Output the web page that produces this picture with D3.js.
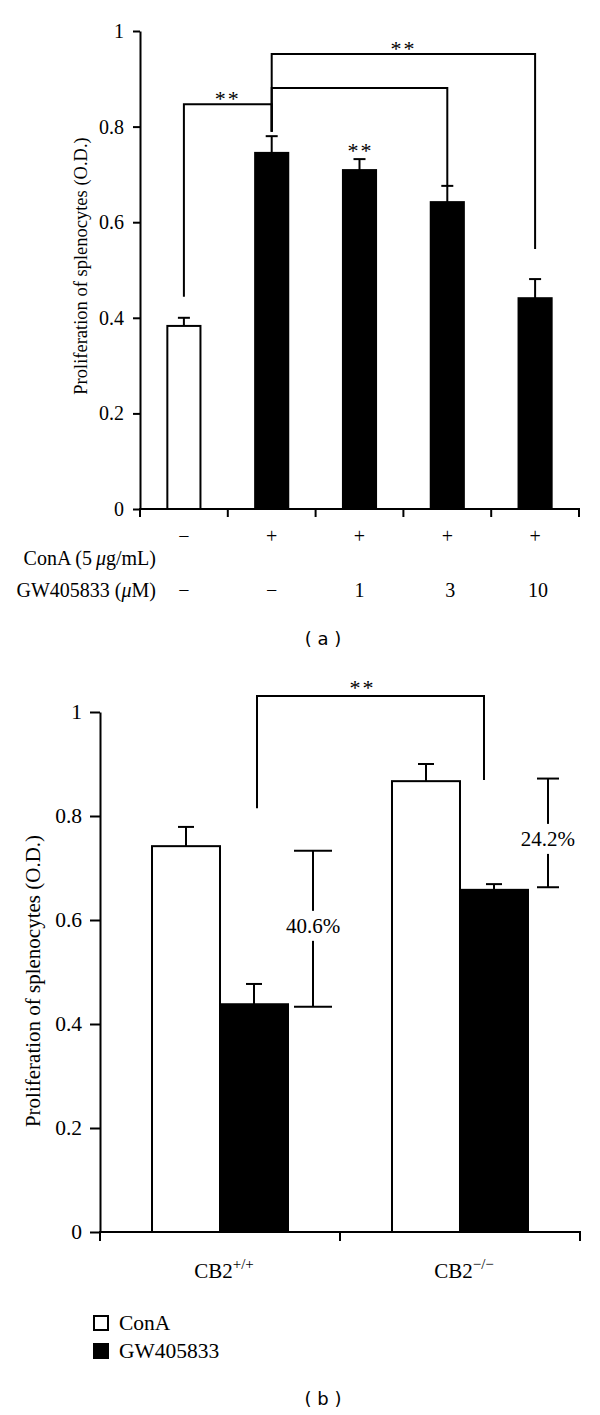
<!DOCTYPE html>
<html>
<head>
<meta charset="utf-8">
<script src="https://cdn.jsdelivr.net/npm/d3@7"></script>
<style>
html,body{margin:0;padding:0;background:#fff;}
svg{display:block;}
text{font-family:"Liberation Serif","Times New Roman",serif;fill:#000;}
</style>
</head>
<body>
<svg id="chart" width="600" height="1415"></svg>
<script>
// ---------- Panel (a) data ----------
const categoriesA = ["g1", "g2", "g3", "g4", "g5"];
const conALabels = ["\u2212", "+", "+", "+", "+"];
const gwLabels = ["\u2212", "\u2212", "1", "3", "10"];
const meansA = [0.383, 0.745, 0.709, 0.642, 0.441];
const errA = [0.017, 0.035, 0.023, 0.034, 0.040];
const fillsA = ["white", "black", "black", "black", "black"];
const yTicks = [0, 0.2, 0.4, 0.6, 0.8, 1];
// significance brackets: from category, to category, bracket level, leg end values
const bracketsA = [
  {from: 0, to: 1, level: 0.847, fromEnd: 0.444, toEnd: 0.789, label: "**"},
  {from: 1, to: 3, level: 0.881, fromEnd: 0.789, toEnd: 0.676, label: ""},
  {from: 1, to: 4, level: 0.952, fromEnd: 0.789, toEnd: 0.544, label: "**"}
];
const starOverBarA = [{cat: 2, label: "**"}];

// ---------- Panel (b) data ----------
const groupsB = ["CB2+/+", "CB2\u2212/\u2212"];
const seriesB = ["ConA", "GW405833"];
const conAMeansB = [0.742, 0.867];
const conAErrB = [0.037, 0.033];
const gwMeansB = [0.438, 0.658];
const gwErrB = [0.039, 0.011];
const percentLo = [0.433, 0.663];
const percentHi = [0.733, 0.872];
const percentLabels = ["40.6%", "24.2%"];
const sigB = {level: 1.031, fromEnd: 0.815, toEnd: 0.869, label: "**"};

const svg = d3.select("#chart");
const fmt = d => d === 0 ? "0" : d === 1 ? "1" : d.toFixed(1);

// =================== Panel (a) ===================
const yA = d3.scaleLinear().domain([0, 1]).range([509, 31]);
const xA = d3.scaleBand().domain(categoriesA).range([140, 579]).paddingInner(0.6).paddingOuter(0.3);
const cxA = i => xA(categoriesA[i]) + xA.bandwidth() / 2;
const gA = svg.append("g");

const axA = gA.append("g").attr("transform", "translate(140,0)")
  .call(d3.axisLeft(yA).tickValues(yTicks).tickFormat(fmt).tickSize(7).tickPadding(9).tickSizeOuter(0));
axA.selectAll("path,line").attr("stroke", "#000").attr("stroke-width", 2);
axA.selectAll("text").attr("font-family", "Liberation Serif").attr("font-size", 20).attr("fill", "#000");

// x axis line and ticks at band boundaries
gA.append("line").attr("x1", 139).attr("x2", 580).attr("y1", yA(0)).attr("y2", yA(0)).attr("stroke", "#000").attr("stroke-width", 2);
gA.selectAll(".xtA").data(d3.range(categoriesA.length + 1)).join("line")
  .attr("x1", i => 140 + i * xA.step()).attr("x2", i => 140 + i * xA.step())
  .attr("y1", yA(0)).attr("y2", yA(0) + 8).attr("stroke", "#000").attr("stroke-width", 2);

// bars
gA.selectAll(".barA").data(meansA).join("rect")
  .attr("x", (d, i) => xA(categoriesA[i]) + 1).attr("width", xA.bandwidth() - 2)
  .attr("y", d => yA(d)).attr("height", d => yA(0) - yA(d))
  .attr("fill", (d, i) => fillsA[i]).attr("stroke", "#000").attr("stroke-width", 2);
// error bars
meansA.forEach((m, i) => {
  const cx = cxA(i);
  gA.append("line").attr("x1", cx).attr("x2", cx).attr("y1", yA(m)).attr("y2", yA(m + errA[i])).attr("stroke", "#000").attr("stroke-width", 2);
  gA.append("line").attr("x1", cx - 6).attr("x2", cx + 6).attr("y1", yA(m + errA[i])).attr("y2", yA(m + errA[i])).attr("stroke", "#000").attr("stroke-width", 2);
});
// brackets
bracketsA.forEach(b => {
  const x1 = cxA(b.from), x2 = cxA(b.to);
  gA.append("path")
    .attr("d", `M${x1},${yA(b.fromEnd)}V${yA(b.level)}H${x2}V${yA(b.toEnd)}`)
    .attr("fill", "none").attr("stroke", "#000").attr("stroke-width", 2);
  if (b.label) {
    gA.append("text").attr("x", (x1 + x2) / 2).attr("y", yA(b.level) + 2)
      .attr("text-anchor", "middle").attr("font-size", 22).attr("letter-spacing", 2).text(b.label);
  }
});
starOverBarA.forEach(s => {
  gA.append("text").attr("x", cxA(s.cat) + 1).attr("y", yA(meansA[s.cat] + errA[s.cat]) - 1)
    .attr("text-anchor", "middle").attr("font-size", 22).attr("letter-spacing", 2).text(s.label);
});
// category label rows
gA.selectAll(".conA").data(conALabels).join("text")
  .attr("x", (d, i) => cxA(i)).attr("y", 543).attr("text-anchor", "middle").attr("font-size", 20).text(d => d);
gA.selectAll(".gw").data(gwLabels).join("text")
  .attr("x", (d, i) => cxA(i) + (i >= 3 ? 3 : 0)).attr("y", 597).attr("text-anchor", "middle").attr("font-size", 20).text(d => d);
const conATitle = gA.append("text").attr("x", 156).attr("y", 565).attr("text-anchor", "end").attr("font-size", 20);
conATitle.append("tspan").text("ConA (5\u2009");
conATitle.append("tspan").attr("font-style", "italic").text("\u03bc");
conATitle.append("tspan").text("g/mL)");
const gwTitle = gA.append("text").attr("x", 156).attr("y", 597).attr("text-anchor", "end").attr("font-size", 20);
gwTitle.append("tspan").text("GW405833 (");
gwTitle.append("tspan").attr("font-style", "italic").text("\u03bc");
gwTitle.append("tspan").text("M)");
// y label
gA.append("text").attr("transform", "translate(87,266) rotate(-90)")
  .attr("text-anchor", "middle").attr("font-size", 18.5).text("Proliferation of splenocytes (O.D.)");
gA.append("text").attr("x", 323).attr("y", 645).attr("text-anchor", "middle")
  .style("font-family", "'DejaVu Sans', Verdana, sans-serif").attr("font-size", 18).text("( a )");

// =================== Panel (b) ===================
const yB = d3.scaleLinear().domain([0, 1]).range([1232, 712]);
const xB = d3.scaleBand().domain(groupsB).range([100, 580]).paddingInner(0.4333).paddingOuter(0.2167);
const xB1 = d3.scaleBand().domain(seriesB).range([0, xB.bandwidth()]);
const gB = svg.append("g");

const axB = gB.append("g").attr("transform", "translate(100,0)")
  .call(d3.axisLeft(yB).tickValues(yTicks).tickFormat(fmt).tickSize(10).tickPadding(8).tickSizeOuter(0));
axB.selectAll("path,line").attr("stroke", "#000").attr("stroke-width", 2);
axB.selectAll("text").attr("font-family", "Liberation Serif").attr("font-size", 21.5).attr("fill", "#000");

gB.append("line").attr("x1", 99).attr("x2", 581).attr("y1", yB(0)).attr("y2", yB(0)).attr("stroke", "#000").attr("stroke-width", 2);
gB.selectAll(".xtB").data(d3.range(groupsB.length + 1)).join("line")
  .attr("x1", i => 100 + i * xB.step()).attr("x2", i => 100 + i * xB.step())
  .attr("y1", yB(0)).attr("y2", yB(0) + 9).attr("stroke", "#000").attr("stroke-width", 2);

const seriesData = [
  {name: seriesB[0], means: conAMeansB, errs: conAErrB, fill: "white"},
  {name: seriesB[1], means: gwMeansB, errs: gwErrB, fill: "black"}
];
seriesData.forEach(s => {
  s.means.forEach((m, gi) => {
    const x0 = xB(groupsB[gi]) + xB1(s.name);
    const w = xB1.bandwidth();
    const cx = x0 + w / 2;
    gB.append("rect").attr("x", x0).attr("width", w).attr("y", yB(m)).attr("height", yB(0) - yB(m))
      .attr("fill", s.fill).attr("stroke", "#000").attr("stroke-width", 2);
    gB.append("line").attr("x1", cx).attr("x2", cx).attr("y1", yB(m)).attr("y2", yB(m + s.errs[gi])).attr("stroke", "#000").attr("stroke-width", 2);
    gB.append("line").attr("x1", cx - 8).attr("x2", cx + 8).attr("y1", yB(m + s.errs[gi])).attr("y2", yB(m + s.errs[gi])).attr("stroke", "#000").attr("stroke-width", 2);
  });
});
// significance bracket
{
  const xl = xB(groupsB[0]) + xB1(seriesB[1]) + xB1.bandwidth() / 2 + 3;
  const xr = xB(groupsB[1]) + xB1(seriesB[1]) + xB1.bandwidth() / 2 - 10;
  gB.append("path").attr("d", `M${xl},${yB(sigB.fromEnd)}V${yB(sigB.level)}H${xr}V${yB(sigB.toEnd)}`)
    .attr("fill", "none").attr("stroke", "#000").attr("stroke-width", 2);
  gB.append("text").attr("x", (xl + xr) / 2 - 8).attr("y", yB(sigB.level) - 1)
    .attr("text-anchor", "middle").attr("font-size", 22).attr("letter-spacing", 2).text(sigB.label);
}
// percent brackets
const pctOffset = [25, 20];
const pctCap = [19, 11];
percentLabels.forEach((lab, i) => {
  const x = xB(groupsB[i]) + xB.bandwidth() + pctOffset[i];
  const yTop = yB(percentHi[i]), yBot = yB(percentLo[i]);
  const g = gB.append("g");
  g.append("line").attr("x1", x).attr("x2", x).attr("y1", yTop).attr("y2", yBot).attr("stroke", "#000").attr("stroke-width", 2);
  g.append("line").attr("x1", x - pctCap[i]).attr("x2", x + pctCap[i]).attr("y1", yTop).attr("y2", yTop).attr("stroke", "#000").attr("stroke-width", 2);
  g.append("line").attr("x1", x - pctCap[i]).attr("x2", x + pctCap[i]).attr("y1", yBot).attr("y2", yBot).attr("stroke", "#000").attr("stroke-width", 2);
  const ym = (yTop + yBot) / 2 + (i === 1 ? 6 : -3);
  g.append("rect").attr("x", x - 32).attr("y", ym - 15).attr("width", 64).attr("height", 30).attr("fill", "white");
  g.append("text").attr("x", x).attr("y", ym + 7).attr("text-anchor", "middle").attr("font-size", 21).text(lab);
});
// group labels with superscripts
groupsB.forEach((gname, i) => {
  const t = gB.append("text").attr("x", xB(gname) + xB.bandwidth() / 2 + 4).attr("y", 1278)
    .attr("text-anchor", "middle").attr("font-size", 21);
  t.append("tspan").text("CB2");
  t.append("tspan").attr("dy", -9).attr("font-size", 15).text(gname.slice(3));
});
// y label
gB.append("text").attr("transform", "translate(40,981) rotate(-90)")
  .attr("text-anchor", "middle").attr("font-size", 21).text("Proliferation of splenocytes (O.D.)");
// legend
seriesData.forEach((s, i) => {
  gB.append("rect").attr("x", 94).attr("y", 1316 + i * 28).attr("width", 14).attr("height", 14)
    .attr("fill", s.fill).attr("stroke", "#000").attr("stroke-width", 2);
  gB.append("text").attr("x", 119).attr("y", 1330 + i * 28).attr("font-size", 21.5).text(s.name);
});
gB.append("text").attr("x", 323).attr("y", 1405).attr("text-anchor", "middle")
  .style("font-family", "'DejaVu Sans', Verdana, sans-serif").attr("font-size", 18).text("( b )");
</script>
</body>
</html>
